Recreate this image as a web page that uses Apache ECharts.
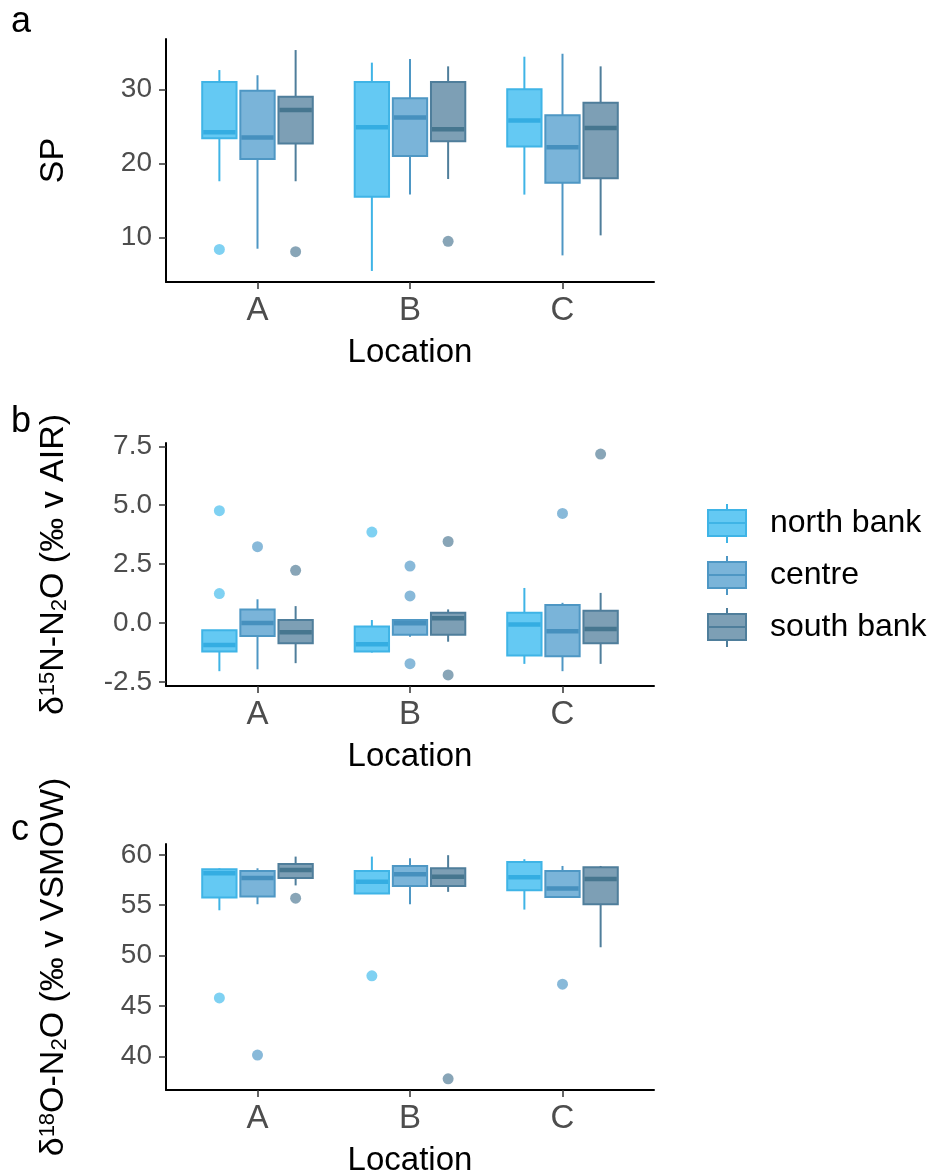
<!DOCTYPE html>
<html><head><meta charset="utf-8">
<script src="https://cdn.jsdelivr.net/npm/echarts@6/dist/echarts.min.js"></script>
<style>html,body{margin:0;padding:0;background:#fff}#c{width:933px;height:1173px}</style>
</head><body><div id="c"></div>
<script>
const categories = ['A', 'B', 'C'];
const groups = ['north bank', 'centre', 'south bank'];
// each entry: [lower whisker, Q1, median, Q3, upper whisker] for locations A, B, C
const spNorth  = [[17.6, 23.4, 24.2, 31.0, 32.6], [5.5, 15.5, 24.9, 31.0, 33.6], [15.8, 22.3, 25.8, 30.0, 34.4]];
const spCentre = [[8.5, 20.6, 23.5, 29.8, 31.9], [15.8, 21.0, 26.2, 28.8, 34.1], [7.6, 17.4, 22.2, 26.5, 34.8]];
const spSouth  = [[17.6, 22.7, 27.2, 29.0, 35.3], [17.9, 23.0, 24.6, 31.0, 33.1], [10.3, 18.0, 24.8, 28.2, 33.1]];
const spNorthOut  = [[8.4], [], []];
const spCentreOut = [[], [], []];
const spSouthOut  = [[8.1], [9.5], []];

const d15North  = [[-2.04, -1.21, -0.93, -0.30, -0.30], [-1.25, -1.20, -0.90, -0.14, 0.13], [-1.73, -1.37, -0.06, 0.44, 1.49]];
const d15Centre = [[-1.96, -0.55, 0.0, 0.58, 1.01], [-0.58, -0.49, -0.01, 0.13, 0.13], [-2.04, -1.41, -0.35, 0.77, 0.86]];
const d15South  = [[-1.70, -0.85, -0.39, 0.13, 0.72], [-0.79, -0.49, 0.21, 0.44, 0.58], [-1.73, -0.85, -0.25, 0.52, 1.28]];
const d15NorthOut  = [[4.77, 1.25], [3.86], []];
const d15CentreOut = [[3.24], [2.42, 1.15, -1.72], [4.65]];
const d15SouthOut  = [[2.24], [3.46, -2.20], [7.17]];

const d18North  = [[54.5, 55.77, 58.17, 58.57, 58.67], [56.17, 56.17, 57.33, 58.4, 59.83], [54.57, 56.5, 57.77, 59.3, 59.57]];
const d18Centre = [[55.1, 55.87, 57.7, 58.4, 58.67], [55.1, 56.9, 58.07, 58.9, 59.67], [55.83, 55.83, 56.67, 58.4, 58.9]];
const d18South  = [[56.97, 57.7, 58.5, 59.1, 59.83], [56.33, 56.9, 57.83, 58.67, 59.97], [50.83, 55.1, 57.6, 58.77, 58.9]];
const d18NorthOut  = [[45.8], [48.0], []];
const d18CentreOut = [[40.13], [], [47.17]];
const d18SouthOut  = [[55.7], [37.77], []];

const spTicks = [10, 20, 30];
const d15Ticks = [-2.5, 0, 2.5, 5, 7.5];
const d18Ticks = [40, 45, 50, 55, 60];

// ---- styling ----
const FONT = 'Liberation Sans, Arial, sans-serif';
const fills = ['#64C9F3', '#7AB4D9', '#7D9FB5'];
const borders = ['#3FB4E6', '#4E97C4', '#4F7E9B'];
const medians = ['#34ADE2', '#4690BE', '#46768F'];
const outlierColors = ['#5FC5EF', '#6AA8CF', '#6A8EA5'];
const offsets = [-0.25, 0, 0.25];
const boxWidth = 0.225;

const panels = [
  { boxes: [spNorth, spCentre, spSouth], outs: [spNorthOut, spCentreOut, spSouthOut], ticks: spTicks,
    fmt: v => String(v), name: 'SP', grid: { left: 166, top: 39, width: 488, height: 243 } },
  { boxes: [d15North, d15Centre, d15South], outs: [d15NorthOut, d15CentreOut, d15SouthOut], ticks: d15Ticks,
    fmt: v => v.toFixed(1), name: '{n|δ}{sup|15}{n|N-N}{sub|2}{n|O (‰ v AIR)}', grid: { left: 166, top: 443, width: 488, height: 243 } },
  { boxes: [d18North, d18Centre, d18South], outs: [d18NorthOut, d18CentreOut, d18SouthOut], ticks: d18Ticks,
    fmt: v => String(v), name: '{n|δ}{sup|18}{n|O-N}{sub|2}{n|O (‰ v VSMOW)}', grid: { left: 166, top: 844, width: 488, height: 246 } }
];

function renderBox(gi) {
  return function (params, api) {
    const x = api.value(0) + offsets[gi];
    const lo = api.coord([x, api.value(1)]);
    const q1 = api.coord([x, api.value(2)]);
    const md = api.coord([x, api.value(3)]);
    const q3 = api.coord([x, api.value(4)]);
    const hi = api.coord([x, api.value(5)]);
    const w = api.size([boxWidth, 0])[0];
    const cx = lo[0];
    return { type: 'group', children: [
      { type: 'line', shape: { x1: cx, y1: hi[1], x2: cx, y2: q3[1] }, style: { stroke: borders[gi], lineWidth: 2 } },
      { type: 'line', shape: { x1: cx, y1: q1[1], x2: cx, y2: lo[1] }, style: { stroke: borders[gi], lineWidth: 2 } },
      { type: 'rect', shape: { x: cx - w / 2, y: q3[1], width: w, height: q1[1] - q3[1] }, style: { fill: fills[gi], stroke: borders[gi], lineWidth: 2 } },
      { type: 'line', shape: { x1: cx - w / 2 + 1, y1: md[1], x2: cx + w / 2 - 1, y2: md[1] }, style: { stroke: medians[gi], lineWidth: 4.5 } }
    ] };
  };
}

const grids = [], xAxes = [], yAxes = [], series = [];
panels.forEach((p, pi) => {
  let all = [];
  p.boxes.forEach(b => b.forEach(r => all = all.concat(r)));
  p.outs.forEach(o => o.forEach(r => all = all.concat(r)));
  const mn = Math.min(...all), mx = Math.max(...all), pad = (mx - mn) * 0.05;
  grids.push(Object.assign({ outerBoundsMode: 'none', containLabel: false }, p.grid));
  xAxes.push({
    type: 'value', gridIndex: pi, min: 0.4, max: 3.6,
    name: 'Location', nameLocation: 'middle', nameGap: 54,
    nameTextStyle: { fontSize: 33, color: '#000', fontFamily: FONT },
    axisLine: { onZero: false, lineStyle: { color: '#000', width: 2 } },
    axisTick: { customValues: [1, 2, 3], length: 7, lineStyle: { color: '#333', width: 1.5 } },
    axisLabel: { customValues: [1, 2, 3], formatter: v => categories[Math.round(v) - 1], fontSize: 33, color: '#4D4D4D', margin: 12, fontFamily: FONT },
    splitLine: { show: false }
  });
  yAxes.push({
    type: 'value', gridIndex: pi, min: mn - pad, max: mx + pad,
    name: p.name, nameLocation: 'middle', nameGap: 95, nameRotate: 90,
    nameTextStyle: { fontSize: 34, color: '#000', fontFamily: FONT,
      rich: { n: { fontSize: 34, fontFamily: FONT, color: '#000' },
              sup: { fontSize: 22, fontFamily: FONT, color: '#000', verticalAlign: 'top' },
              sub: { fontSize: 22, fontFamily: FONT, color: '#000', verticalAlign: 'bottom' } } },
    axisLine: { onZero: false, lineStyle: { color: '#000', width: 2 } },
    axisTick: { customValues: p.ticks, length: 7, lineStyle: { color: '#333', width: 1.5 } },
    axisLabel: { customValues: p.ticks, formatter: p.fmt, fontSize: 28, color: '#4D4D4D', margin: 14, fontFamily: FONT },
    splitLine: { show: false }
  });
  p.boxes.forEach((b, gi) => {
    series.push({
      type: 'custom', name: groups[gi], xAxisIndex: pi, yAxisIndex: pi,
      itemStyle: { color: fills[gi], borderColor: borders[gi], borderWidth: 2 },
      renderItem: renderBox(gi),
      encode: { x: 0, y: [1, 2, 3, 4, 5] },
      data: b.map((r, ci) => [ci + 1].concat(r)),
      silent: true
    });
  });
  p.outs.forEach((o, gi) => {
    const pts = [];
    o.forEach((vals, ci) => vals.forEach(v => pts.push([ci + 1 + offsets[gi], v])));
    series.push({
      type: 'scatter', name: groups[gi] + ' outliers', xAxisIndex: pi, yAxisIndex: pi,
      symbolSize: 11, itemStyle: { color: outlierColors[gi] }, data: pts, silent: true, z: 3
    });
  });
});

const chart = echarts.init(document.getElementById('c'), null, { renderer: 'canvas' });
chart.setOption({
  animation: false,
  backgroundColor: '#fff',
  textStyle: { fontFamily: FONT },
  title: [
    { text: 'a', left: 11, top: 4, padding: 0, textStyle: { fontSize: 36, fontWeight: 'normal', color: '#000', fontFamily: FONT } },
    { text: 'b', left: 11, top: 404, padding: 0, textStyle: { fontSize: 36, fontWeight: 'normal', color: '#000', fontFamily: FONT } },
    { text: 'c', left: 11, top: 812, padding: 0, textStyle: { fontSize: 36, fontWeight: 'normal', color: '#000', fontFamily: FONT } }
  ],
  legend: {
    orient: 'vertical', left: 707, top: 503, itemWidth: 38, itemHeight: 39, itemGap: 11, padding: 0,
    selectedMode: false,
    textStyle: { fontSize: 32, color: '#000', fontFamily: FONT, padding: [0, 0, 0, 19] },
    data: groups.map((g, i) => ({ name: g, icon: 'path://M19,0L19,6M0,6L38,6L38,32L0,32ZM0,19L38,19M19,32L19,39',
      itemStyle: { color: fills[i], borderColor: borders[i], borderWidth: 2 } }))
  },
  grid: grids, xAxis: xAxes, yAxis: yAxes, series: series
});
</script></body></html>
